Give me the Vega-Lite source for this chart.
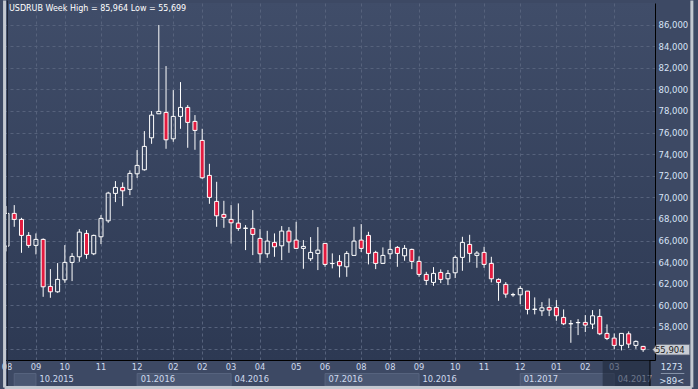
{
  "$schema": "https://vega.github.io/schema/vega-lite/v6.json",
  "width": 652,
  "height": 357,
  "autosize": {"type": "none"},
  "padding": {"left": 3, "top": 3, "right": 43, "bottom": 29},
  "background": "#3d4964",
  "config": {
    "view": {
      "fill": {"gradient": "linear", "x1": 0, "y1": 0, "x2": 0, "y2": 1,
        "stops": [{"offset": 0, "color": "#404d69"}, {"offset": 1, "color": "#2d3953"}]},
      "stroke": null
    },
    "font": "DejaVu Sans",
    "axis": {"labelOverlap": false, "labelBound": false, "labelFlush": false}
  },
  "datasets": {
    "candles": [
      {"i":0,"o":65490,"h":69200,"l":65000,"c":68520},
      {"i":1,"o":68519,"h":69287,"l":67278,"c":67963},
      {"i":2,"o":67963,"h":68111,"l":64870,"c":66481},
      {"i":3,"o":66481,"h":66787,"l":65333,"c":65556},
      {"i":4,"o":65556,"h":66667,"l":64722,"c":66111},
      {"i":5,"o":66111,"h":66200,"l":60796,"c":61722},
      {"i":6,"o":61759,"h":63361,"l":60704,"c":61259},
      {"i":7,"o":61259,"h":63917,"l":61167,"c":62407},
      {"i":8,"o":62370,"h":65583,"l":62093,"c":63981},
      {"i":9,"o":63981,"h":64843,"l":62250,"c":64537},
      {"i":10,"o":64500,"h":67065,"l":64037,"c":66787},
      {"i":11,"o":66667,"h":66972,"l":64315,"c":64722},
      {"i":12,"o":64778,"h":66550,"l":64657,"c":66481},
      {"i":13,"o":66352,"h":68361,"l":65676,"c":68056},
      {"i":14,"o":67833,"h":70519,"l":67648,"c":70398},
      {"i":15,"o":70370,"h":71509,"l":69565,"c":70926},
      {"i":16,"o":70926,"h":71389,"l":69194,"c":70611},
      {"i":17,"o":70741,"h":72500,"l":70213,"c":72222},
      {"i":18,"o":72185,"h":74380,"l":71787,"c":72963},
      {"i":19,"o":72556,"h":76139,"l":72480,"c":74722},
      {"i":20,"o":75519,"h":77991,"l":74963,"c":77620},
      {"i":21,"o":77741,"h":85964,"l":77741,"c":77963},
      {"i":22,"o":77870,"h":82157,"l":74500,"c":75333},
      {"i":23,"o":75426,"h":79935,"l":75148,"c":77500},
      {"i":24,"o":77500,"h":80676,"l":76352,"c":78333},
      {"i":25,"o":78333,"h":78546,"l":74593,"c":76944},
      {"i":26,"o":77037,"h":77620,"l":74407,"c":76204},
      {"i":27,"o":75278,"h":76352,"l":71722,"c":71815},
      {"i":28,"o":72037,"h":73111,"l":69407,"c":70000},
      {"i":29,"o":69630,"h":71444,"l":67278,"c":68296},
      {"i":30,"o":68426,"h":69685,"l":67185,"c":68148},
      {"i":31,"o":67963,"h":69287,"l":65722,"c":67648},
      {"i":32,"o":67620,"h":69444,"l":66907,"c":67130},
      {"i":33,"o":67130,"h":67435,"l":65120,"c":67160},
      {"i":34,"o":67130,"h":68824,"l":64657,"c":66574},
      {"i":35,"o":66204,"h":67065,"l":63944,"c":64778},
      {"i":36,"o":64778,"h":66907,"l":64407,"c":65954},
      {"i":37,"o":65833,"h":66667,"l":64500,"c":65426},
      {"i":38,"o":65519,"h":67343,"l":64194,"c":66880},
      {"i":39,"o":66880,"h":67250,"l":64870,"c":65880},
      {"i":40,"o":66046,"h":67741,"l":65241,"c":65278},
      {"i":41,"o":65278,"h":66046,"l":63389,"c":65463},
      {"i":42,"o":64315,"h":66324,"l":64102,"c":64907},
      {"i":43,"o":64815,"h":67250,"l":63269,"c":65120},
      {"i":44,"o":65741,"h":65760,"l":63574,"c":63796},
      {"i":45,"o":63889,"h":64815,"l":63426,"c":63870},
      {"i":46,"o":64074,"h":64657,"l":62593,"c":63667},
      {"i":47,"o":63574,"h":65028,"l":62648,"c":64815},
      {"i":48,"o":64630,"h":67278,"l":64600,"c":65954},
      {"i":49,"o":66046,"h":67528,"l":64935,"c":65278},
      {"i":50,"o":66481,"h":66815,"l":63796,"c":64815},
      {"i":51,"o":64907,"h":65056,"l":63361,"c":63889},
      {"i":52,"o":63889,"h":65370,"l":63852,"c":64630},
      {"i":53,"o":64778,"h":66046,"l":64287,"c":65185},
      {"i":54,"o":65370,"h":65491,"l":63574,"c":64815},
      {"i":55,"o":64593,"h":65583,"l":64130,"c":65278},
      {"i":56,"o":65185,"h":65250,"l":63361,"c":64074},
      {"i":57,"o":64074,"h":64537,"l":62648,"c":62870},
      {"i":58,"o":62870,"h":63111,"l":61880,"c":62315},
      {"i":59,"o":62130,"h":63546,"l":61815,"c":62963},
      {"i":60,"o":63056,"h":63333,"l":62065,"c":62407},
      {"i":61,"o":62463,"h":63269,"l":61880,"c":62963},
      {"i":62,"o":63019,"h":64630,"l":62528,"c":64444},
      {"i":63,"o":64444,"h":66352,"l":63204,"c":65833},
      {"i":64,"o":65648,"h":66537,"l":63981,"c":64815},
      {"i":65,"o":64630,"h":65028,"l":63481,"c":64843},
      {"i":66,"o":64907,"h":65426,"l":63481,"c":63796},
      {"i":67,"o":63889,"h":64500,"l":62130,"c":62463},
      {"i":68,"o":62407,"h":62500,"l":60426,"c":62130},
      {"i":69,"o":61944,"h":62157,"l":60704,"c":61046},
      {"i":70,"o":61000,"h":61167,"l":60796,"c":60980},
      {"i":71,"o":60981,"h":61787,"l":60120,"c":61574},
      {"i":72,"o":61324,"h":61340,"l":59167,"c":59630},
      {"i":73,"o":59630,"h":60741,"l":59167,"c":59650},
      {"i":74,"o":59500,"h":60306,"l":59028,"c":59778},
      {"i":75,"o":59815,"h":60648,"l":59009,"c":59565},
      {"i":76,"o":59815,"h":60491,"l":58574,"c":59037},
      {"i":77,"o":58889,"h":59630,"l":58176,"c":58296},
      {"i":78,"o":58296,"h":58639,"l":56537,"c":58310},
      {"i":79,"o":58400,"h":58731,"l":57250,"c":58420},
      {"i":80,"o":58426,"h":59102,"l":57528,"c":58176},
      {"i":81,"o":58269,"h":59565,"l":57806,"c":59037},
      {"i":82,"o":58981,"h":59657,"l":57250,"c":57370},
      {"i":83,"o":57407,"h":58241,"l":56787,"c":56944},
      {"i":84,"o":56972,"h":57407,"l":55926,"c":56296},
      {"i":85,"o":56296,"h":57407,"l":55833,"c":57407},
      {"i":86,"o":57370,"h":57593,"l":56046,"c":56417},
      {"i":87,"o":56296,"h":56759,"l":55981,"c":56667},
      {"i":88,"o":56204,"h":56250,"l":55699,"c":55904}
    ],
    "months": [
      {"i":0,"m":"08"},{"i":4,"m":"09"},{"i":8,"m":"10"},{"i":13,"m":"11"},{"i":18,"m":"12"},
      {"i":23,"m":"02"},{"i":27,"m":"02"},{"i":31,"m":"03"},{"i":35,"m":"04"},{"i":40,"m":"05"},
      {"i":44,"m":"06"},{"i":49,"m":"08"},{"i":53,"m":"08"},{"i":57,"m":"09"},{"i":62,"m":"10"},
      {"i":66,"m":"11"},{"i":71,"m":"12"},{"i":76,"m":"01"},{"i":80,"m":"02"},{"i":84,"m":"03"}
    ],
    "quarters": [
      {"q":"","s":1,"e":4,"band":1},
      {"q":"10.2015","s":4,"e":18,"band":0},
      {"q":"01.2016","s":18,"e":31,"band":1},
      {"q":"04.2016","s":31,"e":44,"band":0},
      {"q":"07.2016","s":44,"e":57,"band":1},
      {"q":"10.2016","s":57,"e":71,"band":0},
      {"q":"01.2017","s":71,"e":84,"band":1},
      {"q":"04.2017","s":84,"e":89,"band":0}
    ],
    "info": [{"title":"USDRUB Week High = 85,964 Low = 55,699","price":55904,"bars":"1273","visible":">89<"}]
  },
  "layer": [
    {
      "data": {"name": "candles"},
      "mark": {"type": "rule", "color": "#ffffff", "strokeWidth": 1, "clip": true},
      "encoding": {
        "x": {"field": "i", "type": "quantitative",
          "scale": {"domain": [0.136, 88.95], "nice": false, "zero": false},
          "axis": {"values": [0,4,8,13,18,23,27,31,35,40,44,49,53,57,62,66,71,76,80,84],
            "tickCount": 40,
            "labels": false, "ticks": false, "title": null, "grid": true,
            "gridColor": "#56627c", "gridDash": [3,3], "gridWidth": 1,
            "domain": true, "domainColor": "#000000", "domainWidth": 1}},
        "y": {"field": "h", "type": "quantitative",
          "scale": {"domain": [54944, 88000], "nice": false, "zero": false},
          "axis": {"orient": "right", "title": null, "ticks": false, "tickCount": 40,
            "values": [56000,58000,60000,62000,64000,66000,68000,70000,72000,74000,76000,78000,80000,82000,84000,86000],
            "labelExpr": "datum.value == 56000 ? '' : format(datum.value, ',')",
            "labelPadding": 3, "labelAlign": "left", "labelBaseline": "middle",
            "labelColor": "#d8e3f6", "labelFont": "DejaVu Sans", "labelFontSize": 8.5,
            "labelOverlap": false, "labelBound": false, "labelFlush": false,
            "grid": true, "gridColor": "#56627c", "gridDash": [3,3], "gridWidth": 1,
            "domain": true, "domainColor": "#000000", "domainWidth": 1}},
        "y2": {"field": "c"}
      }
    },
    {
      "data": {"name": "candles"},
      "mark": {"type": "rule", "color": "#ffffff", "strokeWidth": 1, "clip": true},
      "encoding": {
        "x": {"field": "i", "type": "quantitative"},
        "y": {"field": "o", "type": "quantitative"},
        "y2": {"field": "l"}
      }
    },
    {
      "data": {"name": "candles"},
      "mark": {"type": "bar", "size": 4, "stroke": "#ffffff", "strokeWidth": 1, "clip": true},
      "encoding": {
        "x": {"field": "i", "type": "quantitative"},
        "y": {"field": "o", "type": "quantitative"},
        "y2": {"field": "c"},
        "fill": {"condition": {"test": "datum.c < datum.o", "value": "#e31b3f"}, "value": "transparent"}
      }
    },
    {
      "data": {"name": "months"},
      "mark": {"type": "text", "align": "center", "baseline": "middle", "fontSize": 8.3, "color": "#cfdaee", "font": "DejaVu Sans"},
      "encoding": {
        "x": {"field": "i", "type": "quantitative"},
        "y": {"datum": 54157, "type": "quantitative"},
        "text": {"field": "m"}
      }
    },
    {
      "data": {"name": "quarters"},
      "transform": [{"filter": "datum.band == 1"}],
      "mark": {"type": "rect", "fill": "#4a5772", "stroke": "#57647f", "strokeWidth": 1},
      "encoding": {
        "x": {"field": "s", "type": "quantitative"},
        "x2": {"field": "e"},
        "y": {"datum": 53694, "type": "quantitative"},
        "y2": {"datum": 52537}
      }
    },
    {
      "data": {"name": "quarters"},
      "mark": {"type": "text", "align": "left", "baseline": "middle", "dx": 3.5, "fontSize": 8.3, "color": "#cfdaee", "font": "DejaVu Sans"},
      "encoding": {
        "x": {"field": "s", "type": "quantitative"},
        "y": {"datum": 53093, "type": "quantitative"},
        "text": {"field": "q"}
      }
    },
    {
      "data": {"name": "info"},
      "mark": {"type": "rect", "fill": "#1c2436", "opacity": 0.55},
      "encoding": {
        "x": {"datum": 82.4, "type": "quantitative"},
        "x2": {"datum": 88.95},
        "y": {"datum": 54944, "type": "quantitative"},
        "y2": {"datum": 52537}
      }
    },
    {
      "data": {"name": "info"},
      "mark": {"type": "rule", "color": "#000000", "strokeWidth": 1},
      "encoding": {
        "x": {"datum": 88.95, "type": "quantitative"},
        "y": {"datum": 54944, "type": "quantitative"},
        "y2": {"datum": 52537}
      }
    },
    {
      "data": {"name": "info"},
      "mark": {"type": "rule", "color": "#8692a8", "strokeWidth": 1},
      "encoding": {
        "x": {"datum": 90.45, "type": "quantitative"},
        "x2": {"datum": 93.7},
        "y": {"datum": 53694, "type": "quantitative"}
      }
    },
    {
      "data": {"name": "info"},
      "mark": {"type": "text", "align": "center", "baseline": "middle", "fontSize": 8.5, "color": "#d8e3f6", "font": "DejaVu Sans"},
      "encoding": {
        "x": {"datum": 91.95, "type": "quantitative"},
        "y": {"datum": 54296, "type": "quantitative"},
        "text": {"field": "bars"}
      }
    },
    {
      "data": {"name": "info"},
      "mark": {"type": "text", "align": "center", "baseline": "middle", "fontSize": 8.5, "color": "#d8e3f6", "font": "DejaVu Sans"},
      "encoding": {
        "x": {"datum": 91.95, "type": "quantitative"},
        "y": {"datum": 52999, "type": "quantitative"},
        "text": {"field": "visible"}
      }
    },
    {
      "data": {"name": "info"},
      "mark": {"type": "point", "shape": "M-1,0L-0.77,-0.284L1,-0.284L1,0.284L-0.77,0.284Z", "size": 1369, "filled": true, "fill": "#c9cdd4", "stroke": "#5b6478", "strokeWidth": 0.7, "opacity": 1},
      "encoding": {
        "x": {"datum": 91.88, "type": "quantitative"},
        "y": {"field": "price", "type": "quantitative"}
      }
    },
    {
      "data": {"name": "info"},
      "mark": {"type": "text", "align": "left", "baseline": "middle", "fontSize": 8.5, "color": "#1c1c1c", "font": "DejaVu Sans"},
      "encoding": {
        "x": {"datum": 89.63, "type": "quantitative"},
        "y": {"field": "price", "type": "quantitative"},
        "text": {"field": "price", "format": ","}
      }
    },
    {
      "data": {"name": "info"},
      "mark": {"type": "text", "align": "left", "baseline": "alphabetic", "fontSize": 8, "color": "#ffffff", "font": "DejaVu Sans"},
      "encoding": {
        "x": {"datum": 0.27, "type": "quantitative"},
        "y": {"datum": 87231, "type": "quantitative"},
        "text": {"field": "title"}
      }
    },
    {
      "data": {"name": "info"},
      "mark": {"type": "rule", "color": "#1d2435", "strokeWidth": 1},
      "encoding": {
        "x": {"datum": 0.068, "type": "quantitative"},
        "y": {"datum": 88231, "type": "quantitative"},
        "y2": {"datum": 52537}
      }
    },
    {
      "data": {"name": "info"},
      "mark": {"type": "rule", "color": "#c3c8d0", "strokeWidth": 3},
      "encoding": {
        "x": {"datum": -0.34, "type": "quantitative"},
        "y": {"datum": 88231, "type": "quantitative"},
        "y2": {"datum": 52398}
      }
    },
    {
      "data": {"name": "info"},
      "mark": {"type": "rule", "color": "#c3c8d0", "strokeWidth": 3},
      "encoding": {
        "x": {"datum": 94.74, "type": "quantitative"},
        "y": {"datum": 88231, "type": "quantitative"},
        "y2": {"datum": 52398}
      }
    },
    {
      "data": {"name": "info"},
      "mark": {"type": "rule", "color": "#c3c8d0", "strokeWidth": 3},
      "encoding": {
        "x": {"datum": -0.34, "type": "quantitative"},
        "x2": {"datum": 94.74},
        "y": {"datum": 52398, "type": "quantitative"}
      }
    }
  ]
}
